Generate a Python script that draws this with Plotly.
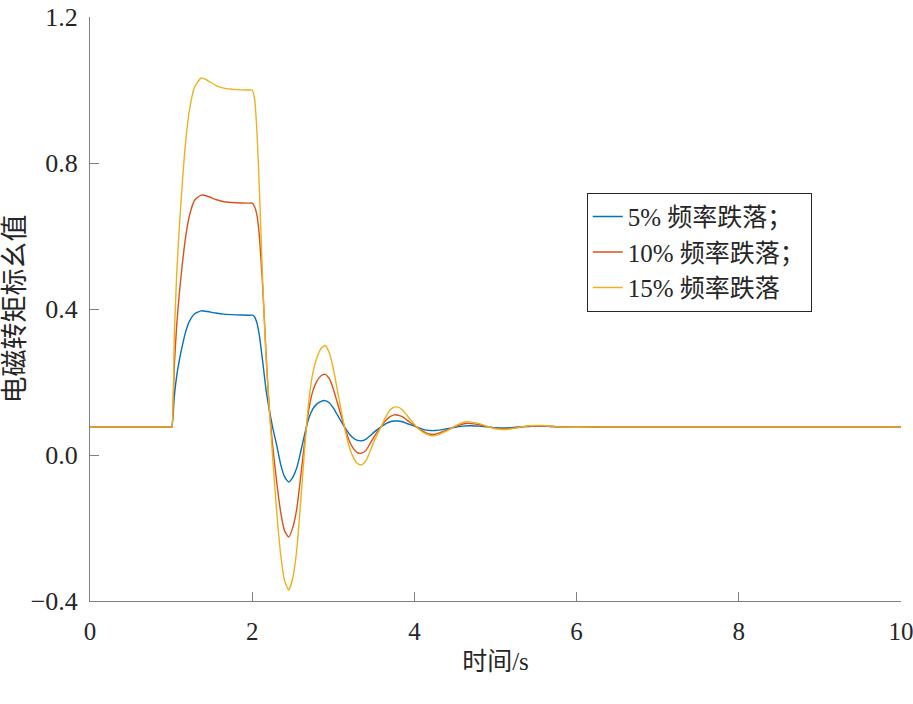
import plotly.graph_objects as go

# time axis (s)
t = [0, 1.0, 1.01, 1.04, 1.07, 1.10, 1.14, 1.18, 1.23, 1.29, 1.37, 1.45, 1.55, 1.65, 1.80, 1.95, 2.00,
     2.03, 2.06, 2.09, 2.13, 2.17, 2.21, 2.25, 2.30, 2.35, 2.40, 2.45, 2.50, 2.55, 2.60, 2.65, 2.70,
     2.75, 2.80, 2.85, 2.90, 2.95, 3.00, 3.05, 3.10, 3.15, 3.20, 3.25, 3.30, 3.35, 3.40, 3.45, 3.50,
     3.55, 3.60, 3.65, 3.70, 3.75, 3.80, 3.85, 3.90, 3.95, 4.00, 4.05, 4.10, 4.15, 4.20, 4.25, 4.30,
     4.40, 4.50, 4.60, 4.65, 4.70, 4.80, 4.90, 5.00, 5.10, 5.20, 5.30, 5.40, 5.50, 5.60, 5.70, 5.80,
     6.00, 6.30, 7.00, 10.0]

# 5% frequency drop
torque_5 = [0.077, 0.077, 0.077, 0.161, 0.218, 0.258, 0.301, 0.338, 0.368, 0.387, 0.395, 0.393, 0.389, 0.386, 0.384, 0.383, 0.383,
            0.378, 0.360, 0.325, 0.255, 0.180, 0.125, 0.078, 0.029, -0.025, -0.060, -0.074, -0.061, -0.035, 0.011, 0.060, 0.102,
            0.127, 0.140, 0.147, 0.149, 0.143, 0.129, 0.110, 0.091, 0.073, 0.057, 0.046, 0.040, 0.039, 0.043, 0.052, 0.062,
            0.071, 0.079, 0.086, 0.091, 0.093, 0.093, 0.091, 0.087, 0.083, 0.079, 0.075, 0.071, 0.068, 0.067, 0.067, 0.068,
            0.072, 0.076, 0.079, 0.080, 0.080, 0.079, 0.077, 0.075, 0.074, 0.075, 0.077, 0.078, 0.079, 0.079, 0.078, 0.077,
            0.076, 0.077, 0.077, 0.077]

# 10% frequency drop
torque_10 = [0.077, 0.077, 0.077, 0.246, 0.359, 0.439, 0.526, 0.599, 0.659, 0.698, 0.712, 0.709, 0.700, 0.694, 0.691, 0.690, 0.690,
             0.680, 0.655, 0.595, 0.460, 0.280, 0.130, 0.030, -0.070, -0.155, -0.208, -0.225, -0.199, -0.147, -0.055, 0.043, 0.127,
             0.177, 0.203, 0.217, 0.221, 0.209, 0.181, 0.143, 0.105, 0.069, 0.037, 0.017, 0.006, 0.005, 0.012, 0.030, 0.049,
             0.066, 0.081, 0.095, 0.105, 0.110, 0.109, 0.105, 0.097, 0.089, 0.081, 0.073, 0.066, 0.060, 0.057, 0.057, 0.060,
             0.068, 0.078, 0.085, 0.087, 0.086, 0.083, 0.078, 0.073, 0.072, 0.073, 0.076, 0.079, 0.080, 0.080, 0.078, 0.077,
             0.076, 0.077, 0.077, 0.077]

# 15% frequency drop
torque_15 = [0.077, 0.077, 0.077, 0.330, 0.500, 0.620, 0.750, 0.860, 0.950, 1.008, 1.033, 1.026, 1.013, 1.005, 1.001, 1.000, 1.000,
             0.975, 0.880, 0.720, 0.470, 0.270, 0.130, 0.000, -0.150, -0.270, -0.345, -0.370, -0.337, -0.259, -0.121, 0.026, 0.152,
             0.227, 0.268, 0.292, 0.300, 0.280, 0.237, 0.178, 0.119, 0.064, 0.020, -0.008, -0.024, -0.027, -0.017, 0.008, 0.036,
             0.060, 0.082, 0.106, 0.123, 0.131, 0.131, 0.124, 0.111, 0.097, 0.084, 0.072, 0.063, 0.057, 0.053, 0.053, 0.056,
             0.066, 0.079, 0.089, 0.091, 0.090, 0.086, 0.078, 0.072, 0.070, 0.072, 0.076, 0.080, 0.081, 0.081, 0.079, 0.077,
             0.076, 0.077, 0.077, 0.077]

series_names = ["5% 频率跌落；", "10% 频率跌落；", "15% 频率跌落"]
colors = ["#0072BD", "#D95319", "#EDB120"]

x_ticks = [0, 2, 4, 6, 8, 10]
y_ticks = [-0.4, 0.0, 0.4, 0.8, 1.2]

FONT = "Liberation Serif, Times New Roman, Noto Sans CJK SC, serif"

fig = go.Figure()
for name, ys, c in zip(series_names, [torque_5, torque_10, torque_15], colors):
    fig.add_trace(go.Scatter(x=t, y=ys, mode="lines", name=name,
                             line=dict(color=c, width=1.4, shape="spline", smoothing=0.5)))

axis_common = dict(showline=True, linecolor="#808080", linewidth=1, mirror=False,
                   ticks="inside", ticklen=9, tickcolor="#808080", tickwidth=1,
                   showgrid=False, zeroline=False, automargin=False,
                   ticklabeloverflow="allow")

fig.update_layout(
    width=913, height=704,
    margin=dict(l=90, r=12, t=17, b=103),
    plot_bgcolor="white", paper_bgcolor="white",
    font=dict(family=FONT, color="#262626"),
    xaxis=dict(range=[0, 10], tickvals=x_ticks, ticklabelstandoff=8,
               tickfont=dict(family=FONT, size=25, color="#262626"),
               title=dict(text="时间/s", font=dict(family=FONT, size=25, color="#262626"), standoff=8),
               **axis_common),
    yaxis=dict(range=[-0.4, 1.2], tickvals=y_ticks, tickformat=".1f", ticklabelstandoff=6,
               tickfont=dict(family=FONT, size=26, color="#262626"),
               title=dict(text="电磁转矩标幺值", font=dict(family=FONT, size=27, color="#262626"), standoff=18),
               **axis_common),
    legend=dict(x=0.6125, y=0.699, xanchor="left", yanchor="top",
                bgcolor="white", bordercolor="#262626", borderwidth=1,
                font=dict(family=FONT, size=25, color="#262626"),
                tracegroupgap=0, itemwidth=30),
    showlegend=True,
)

# remove the default page margin so the figure sits at the window's top-left corner
fig.write_html("out.html", config={"displayModeBar": False},
               post_script="document.body.style.margin='0';")
